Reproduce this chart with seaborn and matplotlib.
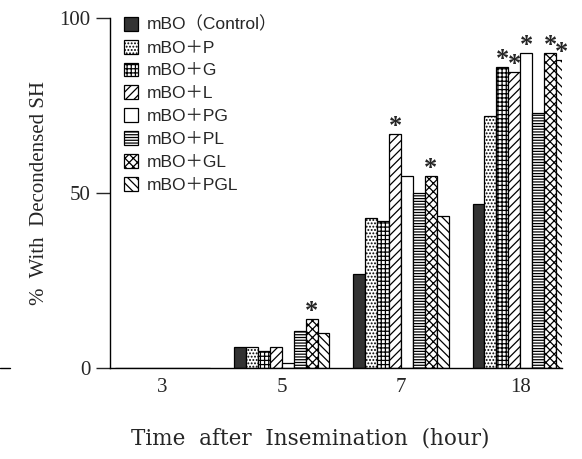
import matplotlib
matplotlib.use("Agg")
import matplotlib.pyplot as plt
import seaborn as sns
import pandas as pd
from matplotlib.lines import Line2D

times = ["3", "5", "7", "18"]
groups = ["mBO（Control）", "mBO＋P", "mBO＋G", "mBO＋L", "mBO＋PG", "mBO＋PL", "mBO＋GL", "mBO＋PGL"]
control = [0, 6, 27, 47]
p_vals = [0, 6, 43, 72]
g_vals = [0, 5, 42, 86]
l_vals = [0, 6, 67, 84.5]
pg_vals = [0, 1.5, 55, 90]
pl_vals = [0, 10.5, 50, 73]
gl_vals = [0, 14, 55, 90]
pgl_vals = [0, 10, 43.5, 88]
series = [control, p_vals, g_vals, l_vals, pg_vals, pl_vals, gl_vals, pgl_vals]
# significance flags (asterisks)
sig = [
    [0, 0, 0, 0],
    [0, 0, 0, 0],
    [0, 0, 0, 1],
    [0, 0, 1, 1],
    [0, 0, 0, 1],
    [0, 0, 0, 0],
    [0, 1, 1, 1],
    [0, 0, 0, 1],
]

rows = []
for gname, vals in zip(groups, series):
    for t, v in zip(times, vals):
        rows.append({"time": t, "group": gname, "value": v})
df = pd.DataFrame(rows)

sns.set_style("white")
serif = ["Liberation Serif", "DejaVu Serif"]
sans = ["Liberation Sans", "Noto Sans CJK JP", "DejaVu Sans"]
plt.rcParams["hatch.linewidth"] = 0.9

fig = plt.figure(figsize=(5.82, 4.59), dpi=100)
ax = fig.add_axes([110 / 582, 1 - 368 / 459, 452 / 582, 350 / 459])

palette = ["#333333"] + ["white"] * 7
sns.barplot(data=df, x="time", y="value", hue="group", order=times, hue_order=groups,
            palette=palette, width=0.8, edgecolor="black", linewidth=0.9,
            legend=False, ax=ax, saturation=1)

hatches = [None, ".....", "++++", "////", None, "------", "xxxx", "\\\\\\\\"]
for cont, h, flags in zip(ax.containers, hatches, sig):
    for bar, f in zip(cont.patches, flags):
        if h:
            bar.set_hatch(h)
        if f:
            ax.text(bar.get_x() + bar.get_width() / 2, bar.get_height() - 1.2, "*",
                    ha="center", va="bottom", fontsize=19, fontweight="bold",
                    family=serif)

ax.set_ylim(0, 100)
ax.set_xlim(-0.44, 3.35)
ax.set_yticks([0, 50, 100])
ax.set_yticklabels(["0", "50", "100"], family=serif, fontsize=15)
ax.set_xticks(range(4))
ax.set_xticklabels(times, family=serif, fontsize=15)
ax.tick_params(axis="y", direction="out", length=10, width=1, left=True, pad=4)
ax.tick_params(axis="x", length=0, pad=7)
for s in ["top", "right"]:
    ax.spines[s].set_visible(False)
for s in ["left", "bottom"]:
    ax.spines[s].set_linewidth(1)
    ax.spines[s].set_color("black")

ax.set_ylabel("%  With  Decondensed SH", family=serif, fontsize=15)
ax.yaxis.set_label_coords(-0.135, 0.5)
ax.set_xlabel("Time  after  Insemination  (hour)", family=["DejaVu Serif"], fontsize=15.5)
ax.xaxis.set_label_coords(0.442, -0.17)

leg = ax.legend(ax.containers, groups, loc="upper left", bbox_to_anchor=(0.015, 1.025),
                frameon=False, prop={"family": sans, "size": 12.5},
                handlelength=0.85, handleheight=0.85, handletextpad=0.5,
                labelspacing=0.4, borderaxespad=0)

fig.add_artist(Line2D([0, 10 / 582], [1 - 368 / 459, 1 - 368 / 459], color="black", lw=1))

fig.savefig("out.png", dpi=100)
